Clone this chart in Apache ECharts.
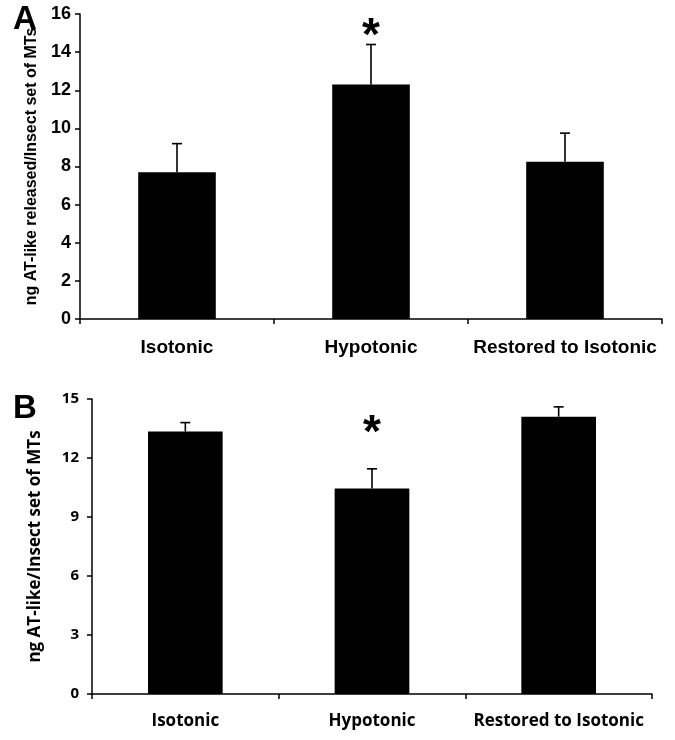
<!DOCTYPE html>
<html>
<head>
<meta charset="utf-8">
<script src="https://cdn.jsdelivr.net/npm/echarts@6/dist/echarts.min.js"></script>
<style>
  html, body { margin: 0; padding: 0; background: #fff; }
  #chart { width: 675px; height: 740px; }
</style>
</head>
<body>
<div id="chart"></div>
<script>
// categories shared by both panels
const categories = ['Isotonic', 'Hypotonic', 'Restored to Isotonic'];

// panel A: ng AT-like released / insect set of MTs
const meanA = [7.7, 12.3, 8.25];
const errA = [1.5, 2.1, 1.5];
const starA = [null, 15.3, null];

// panel B: ng AT-like / insect set of MTs
const meanB = [13.35, 10.45, 14.1];
const errB = [0.45, 1.0, 0.5];
const starB = [null, 13.7, null];

const chart = echarts.init(document.getElementById('chart'));

const errorRender = (params, api) => {
    const x = api.value(0);
    const base = api.coord([x, api.value(1)]);
    const top = api.coord([x, api.value(1) + api.value(2)]);
    const lineStyle = { stroke: '#000', lineWidth: 1.6 };
    return {
        type: 'group',
        children: [
            { type: 'line', shape: { x1: base[0], y1: base[1], x2: top[0], y2: top[1] }, style: lineStyle },
            { type: 'line', shape: { x1: top[0] - 5, y1: top[1], x2: top[0] + 5, y2: top[1] }, style: lineStyle }
        ]
    };
};

const starRender = (params, api) => {
    if (api.value(1) == null || isNaN(api.value(1))) return;
    const p = api.coord([api.value(0), api.value(1)]);
    return {
        type: 'text',
        style: {
            text: '*', x: p[0], y: p[1] + 10, align: 'center', verticalAlign: 'middle',
            fontSize: 46, fontWeight: 'bold', fontFamily: 'Liberation Sans', fill: '#000'
        }
    };
};

const axisLine = { show: true, lineStyle: { color: '#000', width: 1.5 } };
const axisTick = { show: true, length: 5, lineStyle: { color: '#000', width: 1.5 } };

const option = {
    animation: false,
    backgroundColor: '#fff',
    graphic: [
        { type: 'text', left: 13, top: 3, style: { text: 'A', fontSize: 33, fontWeight: 'bold', fontFamily: 'Liberation Sans', fill: '#000' } },
        { type: 'text', left: 13, top: 392, style: { text: 'B', fontSize: 33, fontWeight: 'bold', fontFamily: 'Liberation Sans', fill: '#000' } }
    ],
    grid: [
        { left: 80, top: 14, width: 582, height: 305 },
        { left: 92, top: 399, width: 560, height: 295 }
    ],
    xAxis: [
        {
            type: 'category', gridIndex: 0, data: categories,
            axisLine, axisTick,
            axisLabel: { interval: 0, color: '#000', fontSize: 19, fontWeight: 'bold', fontFamily: 'Liberation Sans', margin: 19 }
        },
        {
            type: 'category', gridIndex: 1, data: categories,
            axisLine, axisTick,
            axisLabel: { interval: 0, color: '#000', fontSize: 17, fontWeight: 'bold', fontFamily: 'Open Sans', margin: 19 }
        }
    ],
    yAxis: [
        {
            type: 'value', gridIndex: 0, min: 0, max: 16, interval: 2,
            axisLine, axisTick, splitLine: { show: false },
            axisLabel: { color: '#000', fontSize: 18, fontWeight: 'bold', fontFamily: 'Liberation Sans', margin: 9 },
            name: 'ng AT-like released/Insect set of MTs',
            nameLocation: 'middle', nameGap: 40, nameRotate: 90,
            nameTextStyle: { color: '#000', fontSize: 16, fontWeight: 'bold', fontFamily: 'Liberation Sans' }
        },
        {
            type: 'value', gridIndex: 1, min: 0, max: 15, interval: 3,
            axisLine, axisTick, splitLine: { show: false },
            axisLabel: { color: '#000', fontSize: 15, fontWeight: 'bold', fontFamily: 'Open Sans', margin: 13 },
            name: 'ng AT-like/Insect set of MTs',
            nameLocation: 'middle', nameGap: 48, nameRotate: 90,
            nameTextStyle: { color: '#000', fontSize: 17, fontWeight: 'bold', fontFamily: 'Open Sans' }
        }
    ],
    series: [
        {
            type: 'bar', xAxisIndex: 0, yAxisIndex: 0, data: meanA, barWidth: '40%',
            itemStyle: { color: '#000' }
        },
        {
            type: 'custom', xAxisIndex: 0, yAxisIndex: 0, renderItem: errorRender, z: 3,
            data: categories.map((c, i) => [i, meanA[i], errA[i]])
        },
        {
            type: 'custom', xAxisIndex: 0, yAxisIndex: 0, renderItem: starRender, z: 3,
            data: categories.map((c, i) => [i, starA[i]])
        },
        {
            type: 'bar', xAxisIndex: 1, yAxisIndex: 1, data: meanB, barWidth: '40%',
            itemStyle: { color: '#000' }
        },
        {
            type: 'custom', xAxisIndex: 1, yAxisIndex: 1, renderItem: errorRender, z: 3,
            data: categories.map((c, i) => [i, meanB[i], errB[i]])
        },
        {
            type: 'custom', xAxisIndex: 1, yAxisIndex: 1, renderItem: starRender, z: 3,
            data: categories.map((c, i) => [i, starB[i]])
        }
    ]
};

chart.setOption(option);
</script>
</body>
</html>
